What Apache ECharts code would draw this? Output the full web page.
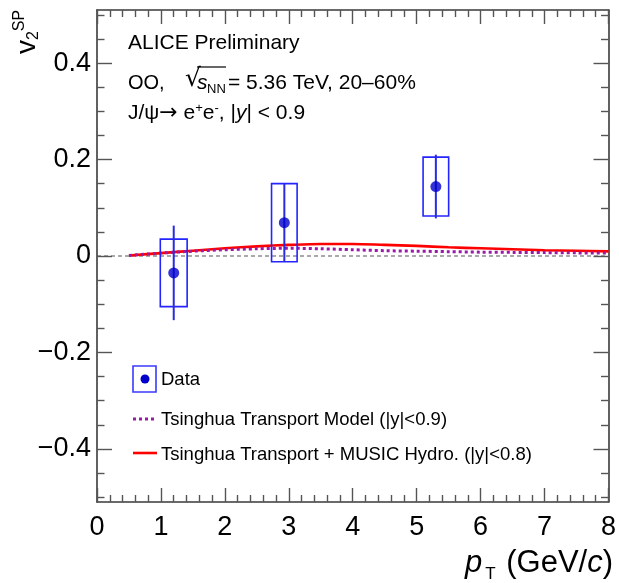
<!DOCTYPE html>
<html><head><meta charset="utf-8">
<script src="https://cdn.jsdelivr.net/npm/echarts@6/dist/echarts.min.js"></script>
<style>html,body{margin:0;padding:0;background:#fff}#c{width:619px;height:583px}</style>
</head><body><div id="c"></div>
<script>
// ---- data ----
const dataPt = [1.2, 2.93, 5.3];
const dataV2 = [-0.035, 0.069, 0.144];
const statErr = [0.098, 0.081, 0.066];
const sysErr = [0.07, 0.081, 0.061];
const sysHalfWidth = [0.21, 0.2, 0.2];

const modelPt = [0.5, 1, 1.5, 2, 2.5, 3, 3.5, 4, 4.5, 5, 5.5, 6, 6.5, 7, 7.5, 8];
const transportV2 = [0.001, 0.006, 0.010, 0.013, 0.015, 0.016, 0.015, 0.013, 0.011, 0.010, 0.009, 0.008, 0.0075, 0.007, 0.0065, 0.006];
const hydroV2 = [0.001, 0.006, 0.011, 0.016, 0.020, 0.023, 0.025, 0.025, 0.023, 0.021, 0.018, 0.016, 0.014, 0.012, 0.011, 0.0095];

const zeroLineX = [0, 8];
const xRange = [0, 8];
const yRange = [-0.51, 0.51];
const yMajorTicks = [-0.4, -0.2, 0, 0.2, 0.4];
const yMinorTicks = [-0.5, -0.45, -0.35, -0.3, -0.25, -0.15, -0.1, -0.05, 0.05, 0.1, 0.15, 0.25, 0.3, 0.35, 0.45, 0.5];

// ---- chart ----
const FONT = '"Liberation Sans", Arial, Helvetica, sans-serif';
const frameColor = '#3a3a3a';
const tickColor = '#555';
const chart = echarts.init(document.getElementById('c'), null, {renderer: 'canvas'});

const fmtY = v => (Math.abs(v) < 1e-9 ? '0' : (v < 0 ? '\u2212' : '') + Math.abs(v).toFixed(1));

function xAx(pos, labels) {
  return {
    type: 'value', position: pos, min: xRange[0], max: xRange[1], interval: 1,
    axisLine: {show: true, onZero: false, lineStyle: {color: frameColor, width: 1.6}},
    axisTick: {show: true, inside: true, length: 14, lineStyle: {color: tickColor, width: 1.4}},
    minorTick: {show: true, splitNumber: 5, length: 7, lineStyle: {color: tickColor, width: 1.4}},
    axisLabel: {show: labels, fontFamily: FONT, fontSize: 27, color: '#000', margin: 12},
    splitLine: {show: false}, minorSplitLine: {show: false}
  };
}
function yAx(pos, ticks, len, labels, line) {
  return {
    type: 'value', position: pos, min: yRange[0], max: yRange[1],
    axisLine: {show: line, onZero: false, lineStyle: {color: frameColor, width: 1.6}},
    axisTick: {show: true, inside: true, length: len, customValues: ticks, lineStyle: {color: tickColor, width: 1.4}},
    axisLabel: {show: labels, customValues: ticks, formatter: fmtY, fontFamily: FONT, fontSize: 27, color: '#000', margin: 6},
    splitLine: {show: false}
  };
}

const pts = dataPt.map((x, i) => [x, dataV2[i], statErr[i], sysErr[i], sysHalfWidth[i]]);

const T = (x, y, text, size, extra) => ({type: 'text', x, y, style: Object.assign({text, font: size + 'px ' + FONT, fill: '#000', verticalAlign: 'middle'}, extra || {})});

const option = {
  animation: false,
  backgroundColor: '#fff',
  grid: {left: 97, right: 7, top: 10, bottom: 81, containLabel: false},
  xAxis: [xAx('bottom', true), xAx('top', false)],
  yAxis: [
    yAx('left', yMajorTicks, 15, true, true),
    yAx('left', yMinorTicks, 7.5, false, false),
    yAx('right', yMajorTicks, 15, false, true),
    yAx('right', yMinorTicks, 7.5, false, false)
  ],
  series: [
    {
      name: 'zero', type: 'line', xAxisIndex: 0, yAxisIndex: 0, symbol: 'none', silent: true, z: 1,
      data: zeroLineX.map(x => [x, 0]),
      lineStyle: {color: '#555', width: 1.2, type: [4, 3]}
    },
    {
      name: 'Tsinghua Transport + MUSIC Hydro. (|y|<0.8)', type: 'line', symbol: 'none', smooth: 0.3, z: 2,
      data: modelPt.map((x, i) => [x, hydroV2[i]]),
      lineStyle: {color: '#ff0000', width: 2.6}
    },
    {
      name: 'Tsinghua Transport Model (|y|<0.9)', type: 'line', symbol: 'none', smooth: 0.3, z: 3,
      data: modelPt.map((x, i) => [x, transportV2[i]]),
      lineStyle: {color: '#9a1aa8', width: 3, type: [3, 3]}
    },
    {
      name: 'sys', type: 'custom', z: 4, encode: {x: 0, y: 1},
      data: pts,
      renderItem(params, api) {
        const x = api.value(0), y = api.value(1), s = api.value(3), hw = api.value(4);
        const p1 = api.coord([x - hw, y + s]);
        const p2 = api.coord([x + hw, y - s]);
        return {type: 'rect', shape: {x: p1[0], y: p1[1], width: p2[0] - p1[0], height: p2[1] - p1[1]},
          style: {fill: 'none', stroke: '#2424ff', lineWidth: 1.6}};
      }
    },
    {
      name: 'stat', type: 'custom', z: 5, encode: {x: 0, y: 1},
      data: pts,
      renderItem(params, api) {
        const x = api.value(0), y = api.value(1), e = api.value(2);
        const p1 = api.coord([x, y + e]);
        const p2 = api.coord([x, y - e]);
        return {type: 'line', shape: {x1: p1[0], y1: p1[1], x2: p2[0], y2: p2[1]},
          style: {stroke: '#2a2ae0', lineWidth: 2}};
      }
    },
    {
      name: 'Data', type: 'scatter', z: 6, symbol: 'circle', symbolSize: 11,
      data: pts.map(p => [p[0], p[1]]),
      itemStyle: {color: '#0000cc'}
    }
  ],
  graphic: [
    // header texts
    T(128, 43, 'ALICE Preliminary', 21),
    T(128, 83, 'OO,', 20),
    {type: 'text', x: 185, y: 79, style: {text: '\u221A', font: '25px "DejaVu Sans", sans-serif', fill: '#000', verticalAlign: 'middle'}},
    {type: 'line', shape: {x1: 197, y1: 67, x2: 226, y2: 67}, style: {stroke: '#000', lineWidth: 1.2}},
    T(197, 83, 's', 21, {font: 'italic 21px ' + FONT}),
    T(207, 89, 'NN', 13),
    T(228, 83, '= 5.36 TeV, 20\u201360%', 21),
    {type: 'text', x: 128, y: 113, style: {
      text: '{n|J/\u03C8}{ar|\u2192}{n| e}{sup|+}{n|e}{sup|-}{n|, |}{i|y}{n|| < 0.9}',
      verticalAlign: 'middle', fill: '#000',
      rich: {
        n: {fontFamily: FONT, fontSize: 21, lineHeight: 28, verticalAlign: 'middle'},
        ar: {fontFamily: '"DejaVu Sans", sans-serif', fontSize: 22, lineHeight: 28, verticalAlign: 'middle'},
        i: {fontFamily: FONT, fontSize: 21, fontStyle: 'italic', lineHeight: 28, verticalAlign: 'middle'},
        sup: {fontFamily: FONT, fontSize: 13, lineHeight: 28, verticalAlign: 'top', padding: [3, 0, 0, 0]}
      }
    }},
    // y axis title
    {type: 'text', x: 27, y: 32, rotation: Math.PI / 2, style: {
      text: '{v|v}{sub|2}{sup|SP}', align: 'center', verticalAlign: 'middle', fill: '#000',
      rich: {
        v: {fontFamily: FONT, fontSize: 28, lineHeight: 34, verticalAlign: 'middle'},
        sub: {fontFamily: FONT, fontSize: 16, lineHeight: 34, verticalAlign: 'bottom', padding: [0, 0, 2, 0]},
        sup: {fontFamily: FONT, fontSize: 16, lineHeight: 34, verticalAlign: 'top', padding: [2, 0, 0, 0]}
      }
    }},
    // x axis title
    {type: 'text', x: 613, y: 563, style: {
      text: '{i|p}{sub|T}{n| (GeV/}{i|c}{n|)}', align: 'right', verticalAlign: 'middle', fill: '#000',
      rich: {
        n: {fontFamily: FONT, fontSize: 31, lineHeight: 40, verticalAlign: 'middle'},
        i: {fontFamily: FONT, fontSize: 31, fontStyle: 'italic', lineHeight: 40, verticalAlign: 'middle'},
        sub: {fontFamily: FONT, fontSize: 17, lineHeight: 40, verticalAlign: 'bottom', padding: [0, 2, 0, 3]}
      }
    }},
    // legend
    {type: 'rect', shape: {x: 133, y: 366, width: 23, height: 26}, style: {fill: 'none', stroke: '#3a3aff', lineWidth: 1.6}},
    {type: 'circle', shape: {cx: 145, cy: 379, r: 4.5}, style: {fill: '#0000cc'}},
    T(161, 380, 'Data', 18.5),
    {type: 'line', shape: {x1: 133, y1: 419, x2: 157, y2: 419}, style: {stroke: '#9a1aa8', lineWidth: 3, lineDash: [3, 3]}},
    T(161, 420, 'Tsinghua Transport Model (|y|<0.9)', 18.5),
    {type: 'line', shape: {x1: 133, y1: 453, x2: 157, y2: 453}, style: {stroke: '#ff0000', lineWidth: 2.6}},
    T(161, 455, 'Tsinghua Transport + MUSIC Hydro. (|y|<0.8)', 18.5)
  ]
};
chart.setOption(option);
</script>
</body></html>
